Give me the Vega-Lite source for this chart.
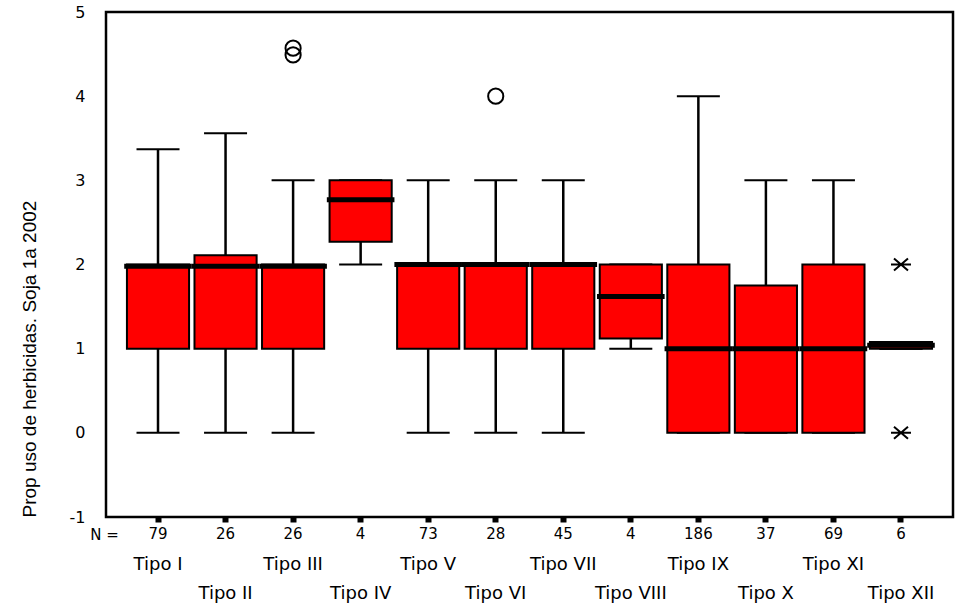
{
  "$schema": "https://vega.github.io/schema/vega-lite/v6.json",
  "autosize": "none",
  "width": 847,
  "height": 505,
  "padding": {"left": 106, "top": 12, "right": 5, "bottom": 94},
  "background": "white",
  "config": {
    "view": {"stroke": "black", "strokeWidth": 2.5},
    "font": "Liberation Sans"
  },
  "datasets": {
    "boxes": [
      {"tipo": "Tipo I", "n": "79", "lo": 0, "q1": 1, "med": 1.98, "q3": 2.0, "hi": 3.37},
      {"tipo": "Tipo II", "n": "26", "lo": 0, "q1": 1, "med": 1.98, "q3": 2.11, "hi": 3.56},
      {"tipo": "Tipo III", "n": "26", "lo": 0, "q1": 1, "med": 1.98, "q3": 2.0, "hi": 3.0},
      {"tipo": "Tipo IV", "n": "4", "lo": 2.0, "q1": 2.27, "med": 2.77, "q3": 3.0, "hi": 3.0},
      {"tipo": "Tipo V", "n": "73", "lo": 0, "q1": 1, "med": 2.0, "q3": 2.0, "hi": 3.0},
      {"tipo": "Tipo VI", "n": "28", "lo": 0, "q1": 1, "med": 2.0, "q3": 2.0, "hi": 3.0},
      {"tipo": "Tipo VII", "n": "45", "lo": 0, "q1": 1, "med": 2.0, "q3": 2.0, "hi": 3.0},
      {"tipo": "Tipo VIII", "n": "4", "lo": 1.0, "q1": 1.12, "med": 1.62, "q3": 2.0, "hi": 2.0},
      {"tipo": "Tipo IX", "n": "186", "lo": 0, "q1": 0, "med": 1.0, "q3": 2.0, "hi": 4.0},
      {"tipo": "Tipo X", "n": "37", "lo": 0, "q1": 0, "med": 1.0, "q3": 1.75, "hi": 3.0},
      {"tipo": "Tipo XI", "n": "69", "lo": 0, "q1": 0, "med": 1.0, "q3": 2.0, "hi": 3.0},
      {"tipo": "Tipo XII", "n": "6", "lo": 1.0, "q1": 1.0, "med": 1.04, "q3": 1.08, "hi": 1.0}
    ],
    "outliers": [
      {"tipo": "Tipo III", "value": 4.57},
      {"tipo": "Tipo III", "value": 4.49},
      {"tipo": "Tipo VI", "value": 4.0}
    ],
    "extremes": [
      {"tipo": "Tipo XII", "value": 2.0},
      {"tipo": "Tipo XII", "value": 0.0}
    ]
  },
  "encoding": {
    "x": {
      "field": "tipo",
      "type": "nominal",
      "sort": ["Tipo I", "Tipo II", "Tipo III", "Tipo IV", "Tipo V", "Tipo VI", "Tipo VII", "Tipo VIII", "Tipo IX", "Tipo X", "Tipo XI", "Tipo XII"],
      "scale": {"paddingInner": 0, "paddingOuter": 0.27},
      "axis": {
        "title": "N =",
        "titleFont": "DejaVu Sans",
        "titleFontSize": 15,
        "titleFontWeight": "normal",
        "titleColor": "black",
        "titleAnchor": "start",
        "titleAlign": "center",
        "titleBaseline": "middle",
        "titleX": -2,
        "titleY": 17,
        "labelAngle": 0,
        "labelFont": "DejaVu Sans",
        "labelFontSize": 18,
        "labelColor": "black",
        "labelLineHeight": 29,
        "labelPadding": 33,
        "labelBaseline": "top",
        "labelExpr": "indexof(['Tipo II','Tipo IV','Tipo VI','Tipo VIII','Tipo X','Tipo XII'], datum.value) >= 0 ? ['', datum.label] : [datum.label, '']",
        "tickSize": 5,
        "tickWidth": 6,
        "tickColor": "black",
        "domain": false,
        "grid": false
      }
    }
  },
  "layer": [
    {
      "data": {"name": "boxes"},
      "mark": {"type": "rule", "color": "black", "strokeWidth": 2.5},
      "encoding": {
        "y": {
          "field": "lo",
          "type": "quantitative",
          "scale": {"domain": [-1, 5], "nice": false, "zero": false},
          "axis": {
            "title": "Prop uso de herbicidas. Soja 1a 2002",
            "titleFontSize": 19,
            "titleFontWeight": "normal",
            "titleAnchor": "start",
            "titlePadding": 30,
            "titleColor": "black",
            "values": [-1, 0, 1, 2, 3, 4, 5],
            "labelExpr": "'' + datum.value",
            "labelFont": "DejaVu Sans",
            "labelFontSize": 16,
            "labelColor": "black",
            "labelPadding": 21,
            "tickSize": 0,
            "ticks": false,
            "domain": false,
            "grid": false
          }
        },
        "y2": {"field": "hi"}
      }
    },
    {
      "data": {"name": "boxes"},
      "mark": {"type": "tick", "color": "black", "opacity": 1, "size": 43, "thickness": 2, "orient": "horizontal"},
      "encoding": {"y": {"field": "hi", "type": "quantitative"}}
    },
    {
      "data": {"name": "boxes"},
      "mark": {"type": "tick", "color": "black", "opacity": 1, "size": 43, "thickness": 2, "orient": "horizontal"},
      "encoding": {"y": {"field": "lo", "type": "quantitative"}}
    },
    {
      "data": {"name": "boxes"},
      "mark": {"type": "bar", "fill": "#ff0000", "stroke": "black", "strokeWidth": 2, "opacity": 1, "width": {"band": 0.92}},
      "encoding": {
        "y": {"field": "q1", "type": "quantitative"},
        "y2": {"field": "q3"}
      }
    },
    {
      "data": {"name": "boxes"},
      "mark": {"type": "tick", "color": "black", "opacity": 1, "size": 67.6, "thickness": 5, "orient": "horizontal"},
      "encoding": {"y": {"field": "med", "type": "quantitative"}}
    },
    {
      "data": {"name": "boxes"},
      "mark": {"type": "text", "font": "DejaVu Sans", "fontSize": 15, "color": "black", "baseline": "middle", "dy": 17},
      "encoding": {
        "y": {"datum": -1, "type": "quantitative"},
        "text": {"field": "n"}
      }
    },
    {
      "data": {"name": "outliers"},
      "mark": {"type": "point", "shape": "circle", "size": 230, "filled": false, "stroke": "black", "strokeWidth": 2, "opacity": 1},
      "encoding": {"y": {"field": "value", "type": "quantitative"}}
    },
    {
      "data": {"name": "extremes"},
      "mark": {"type": "point", "shape": "M-0.7,-0.6L0.7,0.6M-0.7,0.6L0.7,-0.6M-1,0L1,0", "size": 400, "filled": false, "stroke": "black", "strokeWidth": 2, "opacity": 1},
      "encoding": {"y": {"field": "value", "type": "quantitative"}}
    }
  ]
}
